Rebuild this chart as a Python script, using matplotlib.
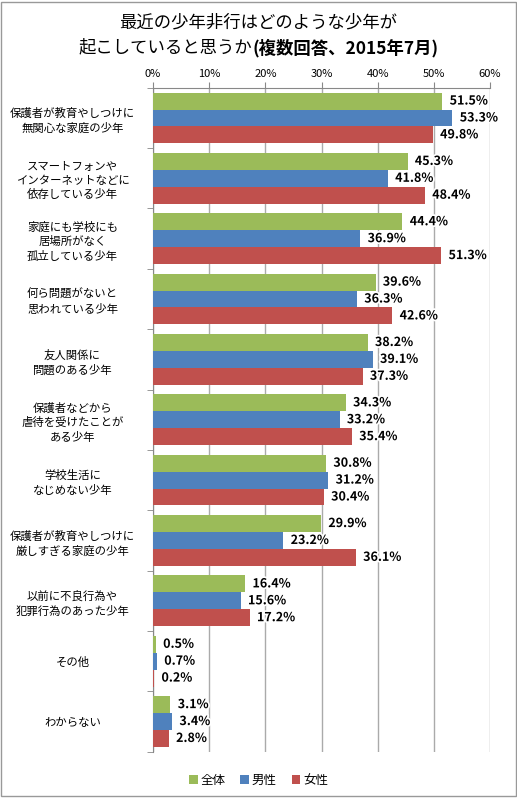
import matplotlib.pyplot as plt
import matplotlib.patheffects as pe
import numpy as np

plt.rcParams['font.family'] = ['Noto Sans CJK JP', 'DejaVu Sans']

categories = [
    '保護者が教育やしつけに\n無関心な家庭の少年',
    'スマートフォンや\nインターネットなどに\n依存している少年',
    '家庭にも学校にも\n居場所がなく\n孤立している少年',
    '何ら問題がないと\n思われている少年',
    '友人関係に\n問題のある少年',
    '保護者などから\n虐待を受けたことが\nある少年',
    '学校生活に\nなじめない少年',
    '保護者が教育やしつけに\n厳しすぎる家庭の少年',
    '以前に不良行為や\n犯罪行為のあった少年',
    'その他',
    'わからない',
]
series_names = ['全体', '男性', '女性']
total = [51.5, 45.3, 44.4, 39.6, 38.2, 34.3, 30.8, 29.9, 16.4, 0.5, 3.1]
male = [53.3, 41.8, 36.9, 36.3, 39.1, 33.2, 31.2, 23.2, 15.6, 0.7, 3.4]
female = [49.8, 48.4, 51.3, 42.6, 37.3, 35.4, 30.4, 36.1, 17.2, 0.2, 2.8]
colors = ['#9BBB59', '#4F81BD', '#C0504D']

fig = plt.figure(figsize=(5.17, 7.98), dpi=100)
ax = fig.add_axes([0.296, 0.058, 0.652, 0.832])

n = len(categories)
h = 0.28
y = np.arange(n)
for i, (vals, c) in enumerate(zip([total, male, female], colors)):
    pos = y + (i - 1) * h
    ax.barh(pos, vals, height=h, color=c, label=series_names[i], zorder=3)
    for p, v in zip(pos, vals):
        ax.text(v + 1.3, p, f'{v:.1f}%', va='center', ha='left', fontsize=9,
                fontweight='bold', zorder=5,
                path_effects=[pe.withStroke(linewidth=2.5, foreground='white')])

ax.set_ylim(n - 0.5, -0.5)
ax.set_xlim(0, 60)
ax.set_xticks(np.arange(0, 61, 10))
ax.set_xticklabels([f'{t}%' for t in range(0, 61, 10)], fontsize=8)
ax.xaxis.tick_top()
ax.tick_params(axis='x', length=4, color='#888888', pad=2)
ax.grid(axis='x', color='#aaaaaa', lw=1, zorder=0)

ax.set_yticks(y)
ax.set_yticklabels(categories, fontsize=8.2, ha='center', multialignment='center',
                   linespacing=1.4)
ax.tick_params(axis='y', length=0, pad=58)
ax.set_yticks(np.arange(n + 1) - 0.5, minor=True)
ax.tick_params(axis='y', which='minor', length=4, color='#888888')

for s in ['right', 'bottom']:
    ax.spines[s].set_visible(False)
ax.spines['top'].set_color('#888888')
ax.spines['left'].set_color('#888888')

# title: first line plain, second line with bold parenthetical
fig.text(0.5, 0.972, '最近の少年非行はどのような少年が', ha='center', va='center', fontsize=12.5)
renderer = fig.canvas.get_renderer()
ta = fig.text(0, 0.940, '起こしていると思うか', ha='left', va='center', fontsize=12.5)
tb = fig.text(0, 0.940, '(複数回答、2015年7月)', ha='left', va='center', fontsize=12.5,
              fontweight='bold')
wa = ta.get_window_extent(renderer).width / fig.bbox.width
wb = tb.get_window_extent(renderer).width / fig.bbox.width
x0 = 0.5 - (wa + wb) / 2
ta.set_x(x0)
tb.set_x(x0 + wa)

fig.legend(loc='lower center', bbox_to_anchor=(0.5, 0.0), ncol=3, frameon=False,
           fontsize=9, handlelength=0.7, handleheight=0.7, handletextpad=0.2,
           columnspacing=1.2)

fig.add_artist(plt.Rectangle((0.002, 0.002), 0.996, 0.996, transform=fig.transFigure,
                             fill=False, edgecolor='#999999', lw=1))

fig.savefig('out.png', dpi=100)
